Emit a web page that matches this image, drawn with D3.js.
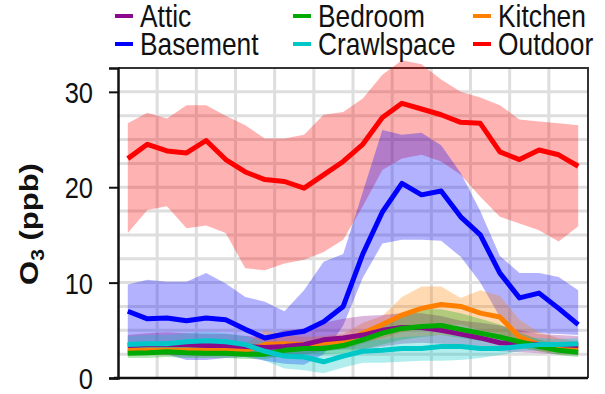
<!DOCTYPE html>
<html>
<head>
<meta charset="utf-8">
<title>O3 diurnal</title>
<script src="https://d3js.org/d3.v7.min.js"></script>
<style>
  body { margin: 0; background: #fff; }
  text { font-family: "Liberation Sans", Arial, sans-serif; fill: #111; }
</style>
</head>
<body>
<svg width="605" height="394"></svg>
<script>
// hour of day (points sit in the middle of each hour)
const hours = d3.range(24);
const yTicks = [0, 10, 20, 30];

const outdoorMean  = [23.0, 24.5, 23.8, 23.6, 24.9, 22.9, 21.6, 20.8, 20.6, 19.9, 21.3, 22.7, 24.5, 27.3, 28.8, 28.2, 27.6, 26.8, 26.7, 23.7, 22.9, 23.9, 23.4, 22.2];
const outdoorUpper = [26.7, 27.8, 27.2, 28.6, 28.6, 27.5, 26.5, 25.1, 25.1, 25.5, 27.6, 27.9, 29.3, 31.8, 33.3, 32.9, 31.3, 30.0, 29.4, 28.6, 27.1, 26.9, 26.7, 26.5];
const outdoorLower = [15.2, 17.6, 18.0, 15.7, 16.0, 15.2, 11.5, 11.3, 12.0, 12.4, 13.2, 14.5, 18.0, 21.8, 23.0, 23.4, 22.7, 21.3, 19.0, 16.9, 16.2, 15.5, 14.3, 15.9];

const basementMean  = [7.0, 6.2, 6.3, 6.0, 6.3, 6.1, 5.1, 4.2, 4.6, 4.9, 5.9, 7.5, 13.0, 17.4, 20.4, 19.2, 19.6, 16.9, 15.0, 11.0, 8.4, 8.9, 7.3, 5.6];
const basementUpper = [9.8, 10.3, 10.1, 10.1, 11.0, 9.9, 8.5, 8.0, 7.0, 9.2, 12.2, 13.0, 19.5, 26.0, 25.5, 25.7, 24.4, 21.5, 17.5, 12.8, 11.0, 11.0, 10.6, 9.2];
const basementLower = [3.3, 3.0, 2.5, 1.9, 1.9, 2.1, 2.2, 1.8, 1.5, 1.4, 2.5, 5.5, 10.5, 14.1, 14.5, 14.5, 14.4, 12.7, 10.0, 6.4, 4.8, 4.7, 4.6, 4.5];

const crawlMean  = [3.5, 3.6, 3.6, 3.8, 3.9, 3.8, 3.5, 2.8, 2.3, 2.2, 1.7, 2.3, 2.8, 2.9, 3.1, 3.1, 3.3, 3.3, 3.1, 3.1, 3.3, 3.5, 3.5, 3.6];
const crawlUpper = [4.4, 4.5, 4.5, 4.7, 4.8, 4.7, 4.4, 3.8, 3.4, 3.4, 3.0, 3.5, 3.9, 4.0, 4.3, 4.4, 4.5, 4.4, 4.2, 4.1, 4.2, 4.2, 4.1, 4.2];
const crawlLower = [2.6, 2.7, 2.7, 2.8, 2.9, 2.8, 2.5, 1.8, 1.0, 0.8, 0.5, 1.1, 1.6, 1.6, 1.7, 1.8, 1.8, 1.9, 2.1, 2.4, 2.8, 2.9, 3.1, 3.3];

const atticMean  = [3.4, 3.5, 3.5, 3.5, 3.4, 3.4, 3.3, 3.2, 3.3, 3.5, 4.0, 4.2, 4.5, 5.0, 5.3, 5.3, 5.0, 4.6, 4.2, 3.7, 3.6, 3.5, 3.5, 3.4];
const atticUpper = [4.5, 4.7, 4.8, 4.7, 4.6, 4.6, 4.4, 4.3, 5.0, 5.2, 5.8, 6.2, 6.5, 6.6, 6.8, 6.8, 6.5, 6.0, 5.8, 5.5, 5.0, 4.6, 4.5, 4.4];
const atticLower = [2.4, 2.4, 2.4, 2.4, 2.3, 2.3, 2.3, 2.2, 2.2, 2.5, 2.8, 3.0, 3.0, 3.3, 3.6, 3.7, 3.6, 3.4, 3.0, 2.8, 2.7, 2.6, 2.5, 2.4];

const bedroomMean  = [2.6, 2.65, 2.75, 2.65, 2.6, 2.6, 2.5, 2.5, 2.9, 3.1, 3.1, 3.4, 4.0, 4.7, 5.2, 5.4, 5.5, 5.1, 4.7, 4.3, 3.8, 3.3, 2.9, 2.7];
const bedroomUpper = [3.2, 3.3, 3.4, 3.3, 3.2, 3.2, 3.1, 3.1, 3.5, 3.8, 3.9, 4.2, 4.8, 5.6, 6.6, 7.2, 7.2, 6.8, 6.2, 5.6, 4.8, 4.0, 3.5, 3.3];
const bedroomLower = [2.1, 2.1, 2.2, 2.1, 2.1, 2.1, 2.0, 2.0, 2.3, 2.5, 2.5, 2.6, 3.0, 3.5, 4.0, 4.3, 4.5, 4.2, 3.9, 3.6, 3.2, 2.8, 2.4, 2.2];

const kitchenMean  = [2.9, 2.9, 2.9, 2.9, 2.9, 2.9, 2.9, 3.5, 3.6, 3.5, 3.7, 3.8, 4.7, 5.6, 6.6, 7.3, 7.7, 7.5, 6.8, 6.4, 4.3, 3.5, 3.3, 3.1];
const kitchenUpper = [3.4, 3.4, 3.4, 3.4, 3.4, 3.4, 3.5, 5.0, 4.5, 4.3, 4.4, 4.6, 5.8, 6.5, 8.5, 9.6, 9.6, 8.4, 9.2, 8.6, 6.1, 4.8, 4.2, 3.8];
const kitchenLower = [2.4, 2.4, 2.4, 2.4, 2.4, 2.4, 2.4, 2.6, 2.8, 2.8, 3.0, 3.0, 3.6, 4.2, 4.8, 5.2, 5.5, 5.6, 5.0, 4.6, 3.2, 2.8, 2.7, 2.5];

// legend order (row by row)
const legendNames = ["Attic", "Bedroom", "Kitchen", "Basement", "Crawlspace", "Outdoor"];

const series = [
    {name: "Outdoor",    color: "#ff0000", mean: outdoorMean,  lo: outdoorLower,  hi: outdoorUpper},
    {name: "Basement",   color: "#0000ff", mean: basementMean, lo: basementLower, hi: basementUpper},
    {name: "Kitchen",    color: "#ff8000", mean: kitchenMean,  lo: kitchenLower,  hi: kitchenUpper},
    {name: "Attic",      color: "#8b0a8b", mean: atticMean,    lo: atticLower,    hi: atticUpper},
    {name: "Bedroom",    color: "#00aa00", mean: bedroomMean,  lo: bedroomLower,  hi: bedroomUpper},
    {name: "Crawlspace", color: "#00c8c8", mean: crawlMean,    lo: crawlLower,    hi: crawlUpper}
];
const colorOf = {};
series.forEach(s => colorOf[s.name] = s.color);

const svg = d3.select("svg");
const squeeze = 0.85;   // the original figure is a bit narrow
const plot = {left: 118, right: 588, top: 68, bottom: 378};

const x = d3.scaleLinear().domain([0, 24]).range([plot.left, plot.right]);
const y = d3.scaleLinear().domain([0, 32.5]).range([plot.bottom, plot.top]);

// grid
const grid = svg.append("g");
grid.selectAll("line.h")
    .data(d3.range(2.5, 32.5, 2.5))
    .enter().append("line")
    .attr("x1", plot.left).attr("x2", plot.right)
    .attr("y1", d => y(d)).attr("y2", d => y(d))
    .attr("stroke", "#dedede").attr("stroke-width", 3);
grid.selectAll("line.v")
    .data(d3.range(2, 24, 2))
    .enter().append("line")
    .attr("y1", plot.top).attr("y2", plot.bottom)
    .attr("x1", d => x(d)).attr("x2", d => x(d))
    .attr("stroke", "#dedede").attr("stroke-width", 3);

// top / right frame
svg.append("path")
    .attr("d", `M${plot.left},${plot.top}H${plot.right}V${plot.bottom}`)
    .attr("fill", "none").attr("stroke", "#333").attr("stroke-width", 2);

// bands
series.forEach(s => {
    svg.append("path")
        .datum(hours)
        .attr("d", d3.area()
            .x(i => x(i + 0.5))
            .y0(i => y(s.lo[i]))
            .y1(i => y(s.hi[i])))
        .attr("fill", s.color)
        .attr("fill-opacity", 0.3);
});

// mean lines
const drawOrder = ["Kitchen", "Attic", "Bedroom", "Crawlspace", "Basement", "Outdoor"];
drawOrder.forEach(n => {
    const s = series.find(d => d.name === n);
    svg.append("path")
        .datum(hours)
        .attr("d", d3.line().x(i => x(i + 0.5)).y(i => y(s.mean[i])))
        .attr("fill", "none")
        .attr("stroke", s.color)
        .attr("stroke-width", 5)
        .attr("stroke-linejoin", "round");
});

// axes
svg.append("line")
    .attr("x1", plot.left - 4).attr("x2", plot.right)
    .attr("y1", plot.bottom).attr("y2", plot.bottom)
    .attr("stroke", "#111").attr("stroke-width", 2.5);

const yAxis = svg.append("g")
    .attr("transform", `translate(${plot.left},0)`)
    .call(d3.axisLeft(y).tickValues(yTicks).tickSize(9).tickFormat(d3.format("d")));
yAxis.select(".domain").attr("stroke", "#111").attr("stroke-width", 2.5);
yAxis.selectAll(".tick line").attr("stroke", "#111").attr("stroke-width", 2);
yAxis.selectAll(".tick text").remove();
yAxis.selectAll(".tick").append("text")
    .attr("transform", `translate(-25,10.5) scale(${squeeze},1)`)
    .attr("text-anchor", "end")
    .style("font-size", "30px")
    .style("fill", "#111")
    .text(d => d);

// y title
const title = svg.append("text")
    .attr("transform", `translate(38,224) scale(${squeeze},1) rotate(-90)`)
    .attr("text-anchor", "middle")
    .style("font-size", "31px")
    .style("font-weight", "bold");
title.append("tspan").text("O");
title.append("tspan").attr("dy", 7).style("font-size", "21px").text("3");
title.append("tspan").attr("dy", -7).text(" (ppb)");

// legend
const legendX = [115, 293, 473];
const legendY = [27, 55];
const legend = svg.selectAll(".legend")
    .data(legendNames)
    .enter().append("g")
    .attr("class", "legend")
    .attr("transform", (d, i) => `translate(${legendX[i % 3]},${legendY[Math.floor(i / 3)]})`);
legend.append("line")
    .attr("x1", 0).attr("x2", 18)
    .attr("y1", -11).attr("y2", -11)
    .attr("stroke", d => colorOf[d])
    .attr("stroke-width", 4);
legend.append("text")
    .attr("transform", `translate(25,0) scale(${squeeze},1)`)
    .style("font-size", "31px")
    .text(d => d);
</script>
</body>
</html>
